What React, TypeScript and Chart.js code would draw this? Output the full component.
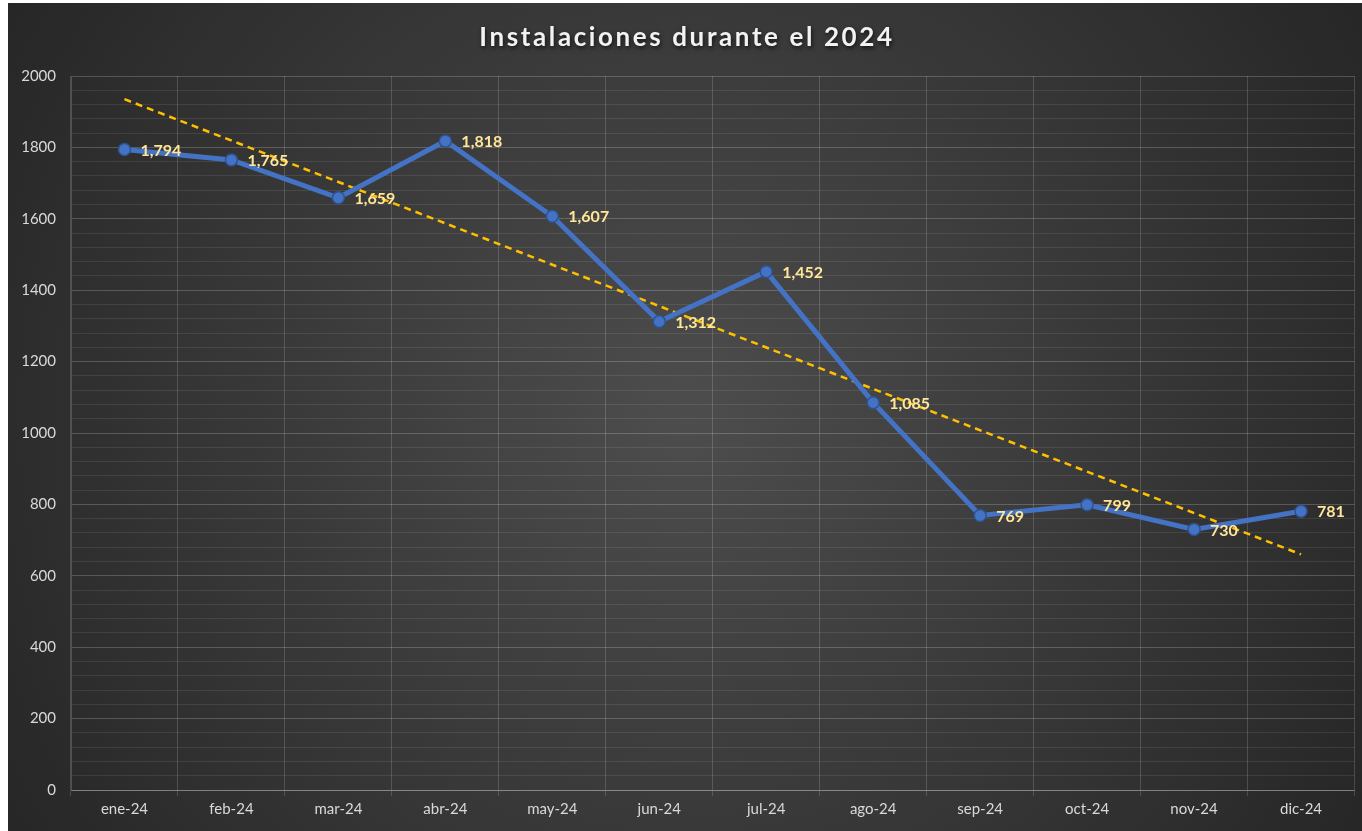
import React, { useEffect, useRef } from "react";
import { Chart, registerables } from "chart.js";

Chart.register(...registerables);

const TITLE = "Instalaciones durante el 2024";
const months = ["ene-24", "feb-24", "mar-24", "abr-24", "may-24", "jun-24", "jul-24", "ago-24", "sep-24", "oct-24", "nov-24", "dic-24"];
const installs = [1794, 1765, 1659, 1818, 1607, 1312, 1452, 1085, 769, 799, 730, 781];
// trendline end points
const trend = [1935, null, null, null, null, null, null, null, null, null, null, 660];
const yMin = 0;
const yMax = 2000;
const yMajor = 200;
const yMinor = 40;

const FONT = "Lato, 'Open Sans', sans-serif";

export default function App() {
  const ref = useRef<HTMLCanvasElement | null>(null);

  useEffect(() => {
    const canvas = ref.current;
    if (!canvas) return;

    const bgPlugin = {
      id: "bg",
      beforeDraw(chart: any) {
        const { ctx, width, height } = chart;
        ctx.save();
        const g = ctx.createRadialGradient(width * 0.5, height * 0.5, 0, width * 0.5, height * 0.5, width * 0.62);
        g.addColorStop(0, "#4d4d4d");
        g.addColorStop(1, "#242424");
        ctx.fillStyle = g;
        ctx.fillRect(0, 0, width, height);
        ctx.restore();
      },
      afterDraw(chart: any) {
        const { ctx, width } = chart;
        ctx.save();
        ctx.font = `bold 26px ${FONT}`;
        (ctx as any).letterSpacing = "2.6px";
        ctx.textAlign = "center";
        ctx.textBaseline = "middle";
        ctx.shadowColor = "rgba(0,0,0,0.7)";
        ctx.shadowBlur = 4;
        ctx.shadowOffsetX = 1;
        ctx.shadowOffsetY = 2;
        ctx.fillStyle = "#f2f2f2";
        ctx.fillText(TITLE, width / 2 + 2, 35);
        ctx.restore();
      },
    };

    const labelPlugin = {
      id: "pointLabels",
      afterDatasetsDraw(chart: any) {
        const { ctx } = chart;
        const meta = chart.getDatasetMeta(0);
        ctx.save();
        ctx.font = `bold 16px ${FONT}`;
        ctx.fillStyle = "#ffe699";
        ctx.textAlign = "left";
        ctx.textBaseline = "middle";
        meta.data.forEach((pt: any, i: number) => {
          const v = installs[i];
          ctx.fillText(v.toLocaleString("en-US"), pt.x + 16, pt.y + 1);
        });
        ctx.restore();
      },
    };

    const chart = new Chart(canvas, {
      type: "line",
      data: {
        labels: months,
        datasets: [
          {
            label: "Instalaciones",
            data: installs,
            borderColor: "#4472c4",
            backgroundColor: "#4472c4",
            borderWidth: 5,
            pointRadius: 6,
            pointBorderColor: "#2f528f",
            pointBorderWidth: 1.5,
            pointBackgroundColor: "#4472c4",
            tension: 0,
            order: 1,
          },
          {
            label: "Tendencia",
            data: trend,
            borderColor: "#ffc000",
            borderWidth: 2.5,
            borderDash: [7, 5],
            pointRadius: 0,
            spanGaps: true,
            order: 2,
          },
        ],
      },
      options: {
        responsive: false,
        animation: false,
        layout: { padding: { top: 73, right: 6, left: 0, bottom: 0 } },
        plugins: {
          legend: { display: false },
          title: { display: false },
          tooltip: { enabled: false },
        },
        scales: {
          x: {
            offset: true,
            grid: {
              offset: true,
              color: "rgba(255,255,255,0.16)",
              lineWidth: 1,
              tickLength: 6,
            },
            border: { color: "rgba(255,255,255,0.25)" },
            ticks: {
              color: "#d9d9d9",
              font: { family: FONT, size: 15 },
              padding: 4,
              maxRotation: 0,
            },
            afterFit(scale: any) {
              scale.height = 41;
            },
          },
          y: {
            min: yMin,
            max: yMax,
            grid: {
              color: (c: any) =>
                c.tick && c.tick.value % yMajor === 0 ? "rgba(255,255,255,0.2)" : "rgba(255,255,255,0.09)",
              lineWidth: 1,
              drawTicks: false,
            },
            border: { color: "rgba(255,255,255,0.18)" },
            ticks: {
              stepSize: yMinor,
              autoSkip: false,
              color: "#d9d9d9",
              font: { family: FONT, size: 15 },
              padding: 15,
              callback: (v: any) => (Number(v) % yMajor === 0 ? String(v) : ""),
            },
            afterFit(scale: any) {
              scale.width = 63;
            },
          },
        },
      },
      plugins: [bgPlugin, labelPlugin],
    });

    return () => chart.destroy();
  }, []);

  return (
    <div style={{ position: "absolute", left: 8, top: 3, width: 1354, height: 828 }}>
      <canvas ref={ref} width={1354} height={828} style={{ display: "block" }} />
    </div>
  );
}
